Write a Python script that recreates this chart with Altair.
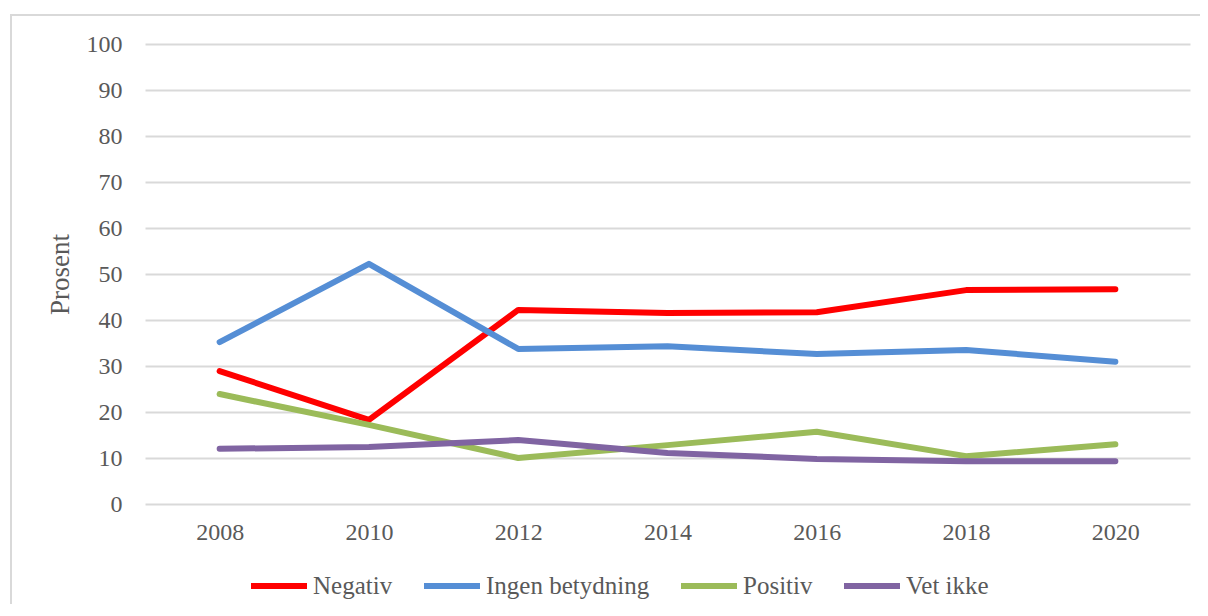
import altair as alt
import pandas as pd

years = ["2008", "2010", "2012", "2014", "2016", "2018", "2020"]
series_names = ["Negativ", "Ingen betydning", "Positiv", "Vet ikke"]
negativ = [28.9, 18.3, 42.2, 41.5, 41.7, 46.5, 46.7]
ingen = [35.2, 52.2, 33.7, 34.3, 32.6, 33.5, 30.9]
positiv = [23.9, 17.2, 10.0, 12.8, 15.7, 10.4, 13.0]
vet_ikke = [12.0, 12.4, 13.9, 11.1, 9.8, 9.3, 9.3]
colors = ["#FF0000", "#558ED5", "#9BBB59", "#8064A2"]
y_ticks = list(range(0, 101, 10))

rows = []
for name, vals in zip(series_names, [negativ, ingen, positiv, vet_ikke]):
    for yr, v in zip(years, vals):
        rows.append({"year": yr, "value": v, "series": name})
df = pd.DataFrame(rows)

FONT = "Liberation Serif"
TXT = "#595959"

border = alt.Chart(pd.DataFrame({"a": [0]})).mark_rect(
    fillOpacity=0, stroke="#d9d9d9", strokeWidth=2
).encode(
    x=alt.value(-134), x2=alt.value(1200), y=alt.value(-29), y2=alt.value(700)
)

lines = alt.Chart(df).mark_line(strokeWidth=6, strokeCap="round", strokeJoin="round").encode(
    x=alt.X("year:O", sort=years,
            axis=alt.Axis(title=None, labelAngle=0, ticks=False, domain=False,
                          labelPadding=16, labelFontSize=24, labelFont=FONT,
                          labelColor=TXT, grid=False)),
    y=alt.Y("value:Q", scale=alt.Scale(domain=[0, 100], nice=False),
            axis=alt.Axis(title="Prosent", values=y_ticks, ticks=False, domain=False,
                          labelPadding=23, labelFontSize=24, labelFont=FONT,
                          labelColor=TXT, titleFont=FONT, titleFontSize=27,
                          titleFontWeight="normal", titleColor=TXT, titlePadding=12,
                          gridColor="#d9d9d9", gridWidth=2)),
    color=alt.Color("series:N", sort=series_names,
                    scale=alt.Scale(domain=series_names, range=colors),
                    legend=alt.Legend(title=None, orient="none", direction="horizontal",
                                      columns=4, legendX=103, legendY=511,
                                      symbolType="stroke", symbolSize=3136,
                                      symbolStrokeWidth=6, labelFont=FONT,
                                      labelFontSize=25, labelColor=TXT,
                                      labelOffset=3, columnPadding=19,
                                      labelLimit=300)),
    order=alt.Order("series:N"),
)

chart = alt.layer(border, lines).properties(
    width=1045, height=460,
    background="white",
    autosize=alt.AutoSizeParams(type="none"),
    padding={"left": 137, "top": 36, "right": 10, "bottom": 100},
).configure_view(stroke=None, strokeOpacity=0, strokeWidth=0)

chart.save("out.html", embed_options={"renderer": "svg", "actions": False})
